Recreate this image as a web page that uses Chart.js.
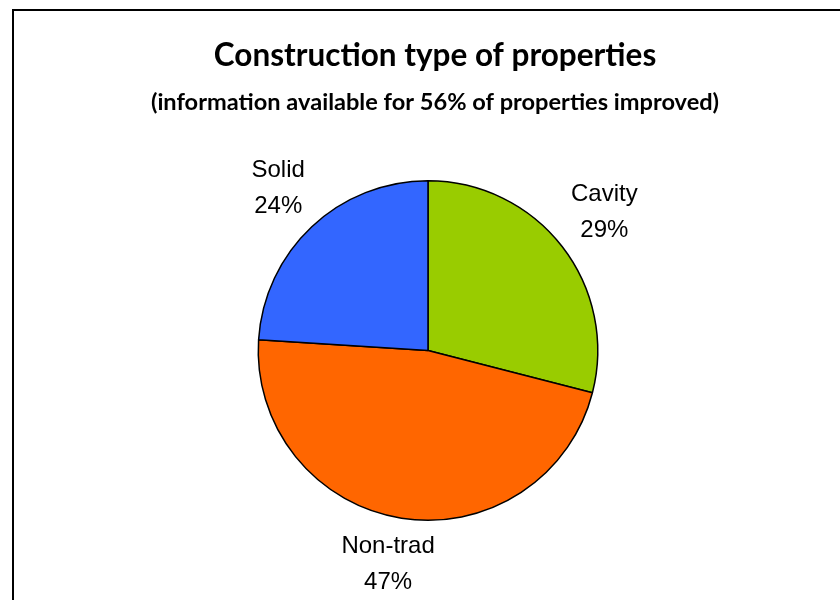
<!DOCTYPE html>
<html>
<head>
<meta charset="utf-8">
<script src="https://cdn.jsdelivr.net/npm/chart.js@4/dist/chart.umd.min.js"></script>
<style>
  html, body { margin: 0; padding: 0; background: #ffffff; overflow: hidden; }
  #wrap { position: relative; width: 840px; height: 600px; }
  #frame { position: absolute; left: 12px; top: 9px; width: 900px; height: 700px;
           border: 2px solid #000; box-sizing: border-box; pointer-events: none; }
  canvas { position: absolute; left: 0; top: 0; }
</style>
</head>
<body>
<div id="wrap">
  <canvas id="c" width="840" height="600"></canvas>
  <div id="frame"></div>
</div>
<script>
const titleText = 'Construction type of properties';
const subtitleText = '(information available for 56% of properties improved)';
const categories = ['Cavity', 'Non-trad', 'Solid'];
const shares = [29, 47, 24];
const sliceColors = ['#99CC00', '#FF6600', '#3366FF'];

const headings = {
  id: 'headings',
  afterDraw(chart, args, opts) {
    const ctx = chart.ctx;
    ctx.save();
    ctx.fillStyle = '#000';
    ctx.textAlign = 'center';
    ctx.textBaseline = 'middle';
    ctx.font = opts.titleFont;
    ctx.fillText(titleText, opts.cx, opts.titleY);
    ctx.font = opts.subFont;
    ctx.fillText(subtitleText, opts.cx, opts.subY);
    ctx.restore();
  }
};

const outLabels = {
  id: 'outLabels',
  afterDatasetsDraw(chart, args, opts) {
    const ctx = chart.ctx;
    const meta = chart.getDatasetMeta(0);
    const data = chart.data.datasets[0].data;
    ctx.save();
    ctx.font = opts.font;
    ctx.fillStyle = '#000';
    ctx.textAlign = 'center';
    ctx.textBaseline = 'middle';
    meta.data.forEach((arc, i) => {
      const p = arc.getProps(['x', 'y', 'startAngle', 'endAngle', 'outerRadius'], true);
      const mid = (p.startAngle + p.endAngle) / 2;
      const d = p.outerRadius + opts.gaps[i];
      const lx = p.x + Math.cos(mid) * d + opts.dx[i];
      const ly = p.y + Math.sin(mid) * d;
      ctx.fillText(chart.data.labels[i], lx, ly - opts.lineGap / 2);
      ctx.fillText(data[i] + '%', lx, ly + opts.lineGap / 2);
    });
    ctx.restore();
  }
};

new Chart(document.getElementById('c'), {
  type: 'pie',
  data: {
    labels: categories,
    datasets: [{
      data: shares,
      backgroundColor: sliceColors,
      borderColor: '#000000',
      borderWidth: 1.5,
      hoverOffset: 0
    }]
  },
  options: {
    responsive: false,
    animation: false,
    events: [],
    layout: { padding: { left: 16, right: 0, top: 180, bottom: 79 } },
    plugins: {
      legend: { display: false },
      tooltip: { enabled: false },
      title: { display: false },
      headings: {
        cx: 435,
        titleY: 56,
        subY: 102,
        titleFont: 'bold 31.5px Lato, "Open Sans", sans-serif',
        subFont: 'bold 23.6px Lato, "Open Sans", sans-serif'
      },
      outLabels: { font: '24px "Liberation Sans", Arial, sans-serif', gaps: [56, 47, 52], dx: [-2, -6, 2], lineGap: 36 }
    }
  },
  plugins: [outLabels, headings]
});
</script>
</body>
</html>
